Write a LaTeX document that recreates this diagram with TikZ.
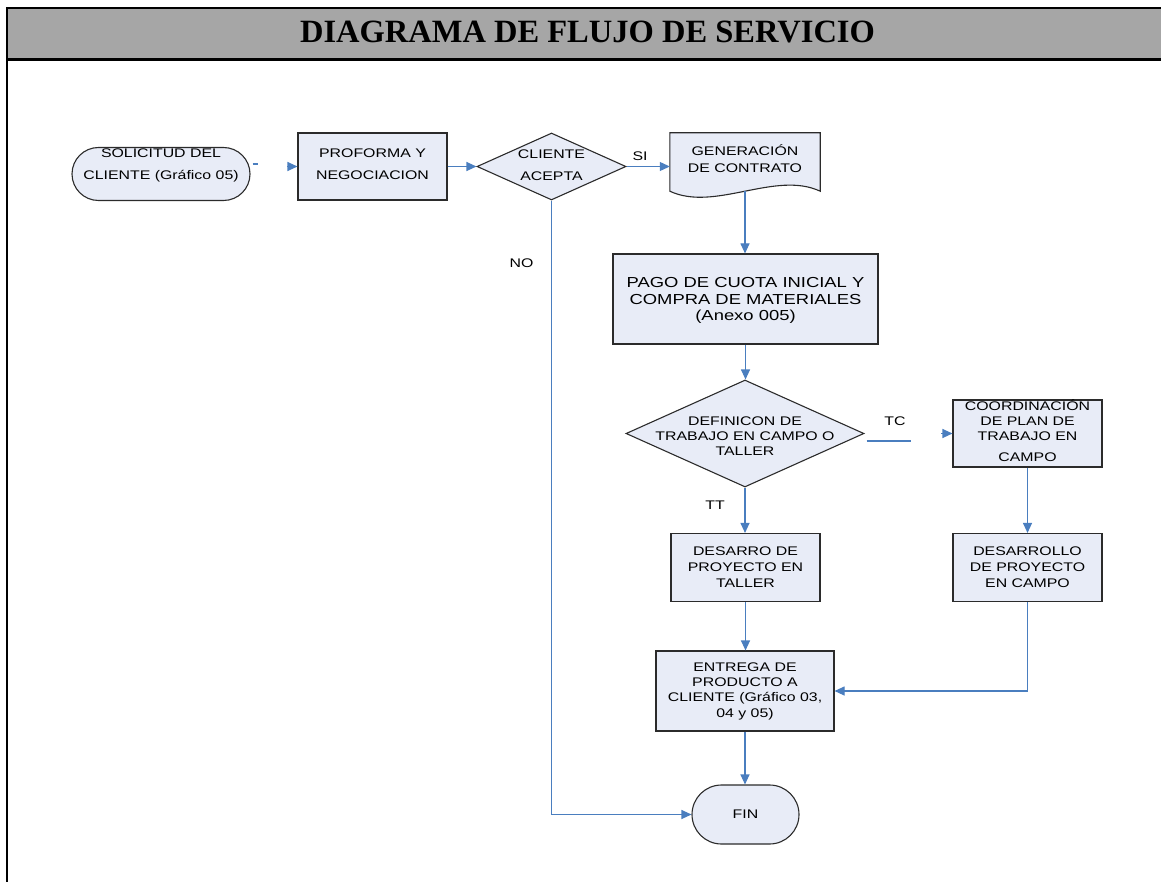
\documentclass[tikz,border=0pt]{standalone}
\usepackage{fontspec}
\usetikzlibrary{arrows.meta,calc,shapes.geometric}
\newfontfamily\flowfont[FakeStretch=1.27]{Liberation Sans}
\newfontfamily\headfont{Liberation Serif}
\definecolor{boxfill}{HTML}{E8ECF7}
\definecolor{boxline}{HTML}{2B2B2B}
\definecolor{wireblue}{HTML}{4A7EBF}
\definecolor{headgray}{HTML}{A6A6A6}
% lines of a box label: #1 = drop of the last baseline below the node centre
\newcommand\flowlines[2]{\smash{\makebox[0pt]{\raisebox{-#1}{\begin{tabular}[b]{@{}c@{}}#2\end{tabular}}}}}
\pgfdeclarelayer{background}
\pgfsetlayers{background,main}
\begin{document}
\begin{tikzpicture}[x=1pt,y=-1pt,
  base/.style={draw=boxline,line width=1.1pt,fill=boxfill,inner sep=0pt},
  procbox/.style={base,rectangle},
  termbox/.style={base,rectangle},
  decbox/.style={base,diamond},
  bodytext/.style={font=\flowfont\fontsize{12.5}{#1}\selectfont},
  wire/.style={draw=wireblue,line width=1.1pt},
  flowarrow/.style={wire,-{Triangle[length=10pt,width=9pt]}},
  branchlbl/.style={font=\flowfont\fontsize{12.5}{15}\selectfont,inner sep=0pt,anchor=base}]
\useasboundingbox (0,0) rectangle (1161,882);

% header band and frame
\fill[headgray] (7,8) rectangle (1165,59.5);
\draw[line width=2.5pt] (1165,8) -- (7,8) -- (7,885);
\draw[line width=2.5pt] (7,59.5) -- (1165,59.5);
\node[font=\headfont\bfseries\fontsize{32.5}{36}\selectfont,anchor=base,inner sep=0pt] (title) at (587.5,43) {DIAGRAMA DE FLUJO DE SERVICIO};

% boxes
\node[termbox,minimum width=178pt,minimum height=53pt,rounded corners=26.5pt,bodytext=22] (sol) at (161,174)
  {\flowlines{6pt}{SOLICITUD DEL\\CLIENTE (Gráfico 05)}};
\node[procbox,minimum width=149pt,minimum height=67pt,bodytext=22] (proforma) at (372.5,166.5)
  {\flowlines{13.5pt}{PROFORMA Y\\NEGOCIACION}};
\node[decbox,minimum width=149pt,minimum height=67pt,bodytext=22] (cliente) at (551.5,166.5)
  {\flowlines{14pt}{CLIENTE\\ACEPTA}};
\node[inner sep=0pt,minimum width=150pt,minimum height=58pt,bodytext=17] (gen) at (745,162)
  {\flowlines{11pt}{GENERACIÓN\\DE CONTRATO}};
\begin{pgfonlayer}{background}
  \draw[draw=boxline,line width=1.1pt,fill=boxfill]
    (gen.south east) -- (gen.north east) -- (gen.north west) -- (gen.south west)
    .. controls +(45,21) and +(-45,-21) .. (gen.south east) -- cycle;
\end{pgfonlayer}
\coordinate (genb) at (gen.south);
\node[procbox,minimum width=265pt,minimum height=90pt,font=\flowfont\fontsize{14.5}{16.5}\selectfont] (pago) at (745.5,299)
  {\flowlines{22pt}{PAGO DE CUOTA INICIAL Y\\COMPRA DE MATERIALES\\(Anexo 005)}};
\node[decbox,minimum width=238pt,minimum height=107pt,bodytext=15] (def) at (745,433.5)
  {\flowlines{21.5pt}{DEFINICON DE\\TRABAJO EN CAMPO O\\TALLER}};
\node[procbox,minimum width=149pt,minimum height=67pt,bodytext=15] (coord) at (1027.5,433.5)
  {\flowlines{27.5pt}{COORDINACIÓN\\DE PLAN DE\\TRABAJO EN\\[6pt]CAMPO}};
\node[procbox,minimum width=149pt,minimum height=68pt,bodytext=16] (desarro) at (745.5,567.5)
  {\flowlines{19.5pt}{DESARRO DE\\PROYECTO EN\\TALLER}};
\node[procbox,minimum width=149pt,minimum height=68pt,bodytext=16] (desarrollo) at (1027.5,567.5)
  {\flowlines{19.5pt}{DESARROLLO\\DE PROYECTO\\EN CAMPO}};
\node[procbox,minimum width=178pt,minimum height=80pt,bodytext=15.3] (entrega) at (745,691)
  {\flowlines{26pt}{ENTREGA DE\\PRODUCTO A\\CLIENTE (Gráfico 03,\\04 y 05)}};
\node[termbox,minimum width=107pt,minimum height=59pt,rounded corners=29.5pt,bodytext=15] (fin) at (745.5,814.5)
  {\flowlines{3.5pt}{FIN}};

% connectors
\draw[wire] ($(sol.east)+(2,-10)$) -- ++(5,0);
\draw[flowarrow] ($(proforma.west)+(-10,0)$) -- (proforma.west);
\draw[flowarrow] (proforma.east) -- (cliente.west);
\draw[flowarrow] (cliente.east) -- (cliente.east -| gen.west);
\draw[flowarrow] (genb) -- (genb |- pago.north);
\draw[flowarrow] (pago.south) -- (pago.south |- def.north);
\draw[wire] ($(def.east)+(2,7.5)$) -- ++(44,0);
\draw[flowarrow] ($(coord.west)+(-11,0)$) -- (coord.west);
\draw[flowarrow] (def.south) -- (def.south |- desarro.north);
\draw[flowarrow] (coord.south) -- (desarrollo.north);
\draw[flowarrow] (desarro.south) -- (desarro.south |- entrega.north);
\draw[flowarrow] (desarrollo.south) |- (entrega.east);
\draw[flowarrow] (entrega.south) -- (entrega.south |- fin.north);
\draw[flowarrow] (cliente.south) |- (fin.west);

% branch labels
\node[branchlbl] (si) at (640,160.5) {SI};
\node[branchlbl] (no) at (521.5,268) {NO};
\node[branchlbl] (tc) at (895,425.5) {TC};
\node[branchlbl] (tt) at (715,509) {TT};
\end{tikzpicture}
\end{document}
